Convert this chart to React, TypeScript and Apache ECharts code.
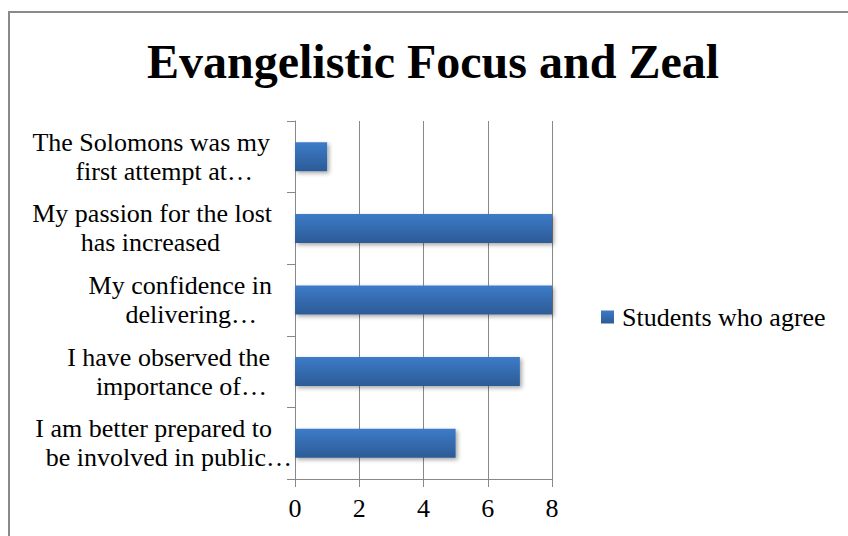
import React, { useEffect, useRef } from "react";
import * as echarts from "echarts";

const titleText = "Evangelistic Focus and Zeal";
const seriesName = "Students who agree";
// bottom to top
const categories = [
  "I am better prepared to\nbe involved in public…",
  "I have observed the\nimportance of…",
  "My confidence in\ndelivering…",
  "My passion for the lost\nhas increased",
  "The Solomons was my\nfirst attempt at…",
];
const values = [5, 7, 8, 8, 1];
const xTicks = [0, 2, 4, 6, 8];

// per-label line offsets from the right edge (layout only)
const linePads = [
  [20, 0],
  [22, 25],
  [20, 35],
  [20, 72],
  [22, 39],
];

const SERIF = "Liberation Serif";

export default function App() {
  const ref = useRef<HTMLDivElement>(null);
  useEffect(() => {
    if (!ref.current) return;
    const chart = echarts.init(ref.current, undefined, { renderer: "svg" });
    const rich: any = {};
    linePads.forEach((p, i) => {
      rich["a" + i] = {
        fontSize: 26,
        fontFamily: SERIF,
        color: "#000",
        lineHeight: 29,
        align: "right",
        padding: [0, p[0], 0, 0],
      };
      rich["b" + i] = {
        fontSize: 26,
        fontFamily: SERIF,
        color: "#000",
        lineHeight: 29,
        align: "right",
        padding: [0, p[1], 0, 0],
      };
    });
    chart.setOption({
      animation: false,
      backgroundColor: "#fff",
      textStyle: { fontFamily: SERIF },
      graphic: [
        {
          type: "rect",
          shape: { x: 9, y: 12, width: 1000, height: 1000 },
          style: { fill: "none", stroke: "#8a8a8a", lineWidth: 2 },
          silent: true,
        },
      ],
      title: {
        text: titleText,
        left: 142,
        top: 32,
        textStyle: {
          fontFamily: SERIF,
          fontWeight: "bold",
          fontSize: 48,
          color: "#000",
        },
      },
      legend: {
        data: [seriesName],
        left: 601,
        top: 304,
        padding: 0,
        icon: "rect",
        itemWidth: 13,
        itemHeight: 13,
        itemGap: 0,
        formatter: "{s|{name}}",
        textStyle: {
          fontFamily: SERIF,
          fontSize: 26,
          lineHeight: 26,
          color: "#000",
          rich: {
            s: {
              fontFamily: SERIF,
              fontSize: 26,
              lineHeight: 26,
              color: "#000",
              padding: [0, 0, 0, 3],
            },
          },
        },
      },
      grid: { left: 295, right: 296, top: 121, bottom: 57, containLabel: false },
      xAxis: {
        type: "value",
        min: xTicks[0],
        max: xTicks[xTicks.length - 1],
        interval: 2,
        axisLine: { show: true, lineStyle: { color: "#888", width: 1 } },
        axisTick: { show: true, length: 8, inside: false, lineStyle: { color: "#888" } },
        splitLine: { show: true, lineStyle: { color: "#888", width: 1 } },
        axisLabel: {
          margin: 16,
          fontFamily: SERIF,
          fontSize: 26,
          color: "#000",
        },
      },
      yAxis: {
        type: "category",
        data: categories,
        axisLine: { show: true, lineStyle: { color: "#888", width: 1 } },
        axisTick: { show: true, length: 8, inside: false, alignWithLabel: false, lineStyle: { color: "#888" } },
        splitLine: { show: false },
        axisLabel: {
          interval: 0,
          margin: 3,
          formatter: (value: string, index: number) => {
            const parts = value.split("\n");
            return `{a${index}|${parts[0]}}\n{b${index}|${parts[1] || ""}}`;
          },
          rich,
        },
      },
      series: [
        {
          name: seriesName,
          type: "bar",
          data: values,
          barWidth: 29,
          itemStyle: {
            color: new echarts.graphic.LinearGradient(0, 0, 0, 1, [
              { offset: 0, color: "#3d7bc8" },
              { offset: 1, color: "#2c5b96" },
            ]),
            shadowBlur: 4,
            shadowOffsetX: 2,
            shadowOffsetY: 2,
            shadowColor: "rgba(0,0,0,0.35)",
          },
        },
      ],
    });
    return () => chart.dispose();
  }, []);
  return (
    <div
      ref={ref}
      style={{ position: "absolute", left: 0, top: 0, width: 848, height: 536 }}
    />
  );
}
